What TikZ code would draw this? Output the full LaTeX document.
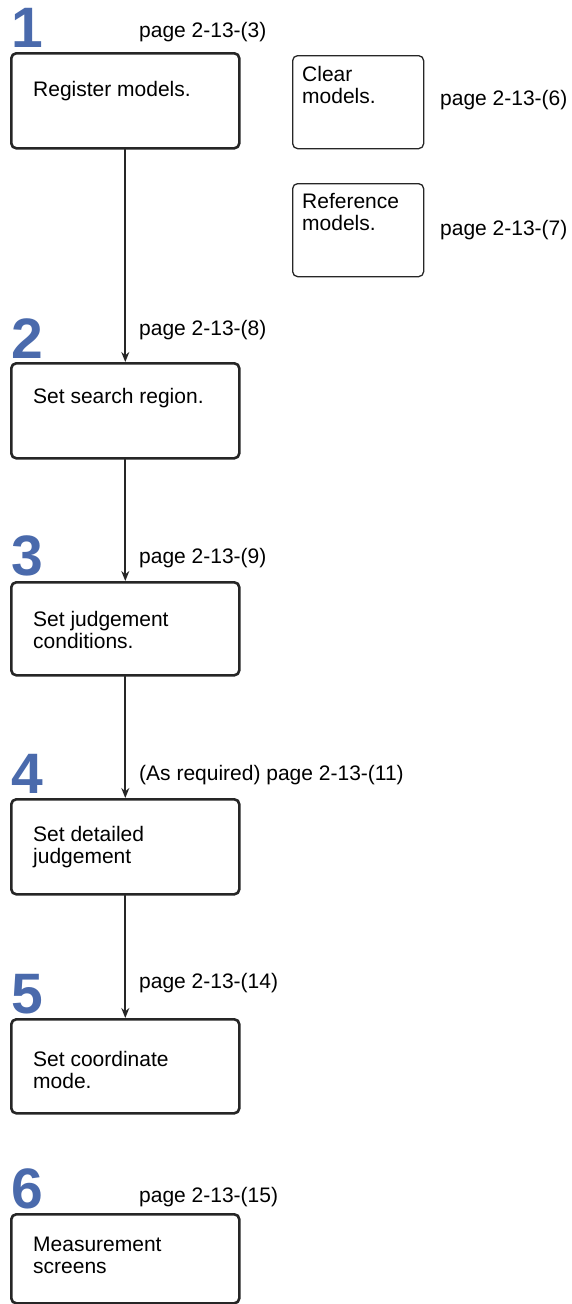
\documentclass[tikz,border=0pt]{standalone}
\usepackage{fontspec}
\setmainfont{Liberation Sans}
\usetikzlibrary{arrows.meta}
\definecolor{stepblue}{RGB}{74,106,172}
\begin{document}
\begin{tikzpicture}[x=1pt,y=-1pt,line join=round,line cap=round,>={Stealth[length=10pt,width=8pt]},
	stepbox/.style={draw=black!85,line width=2.6pt,rounded corners=5pt,minimum width=228pt,anchor=north west,inner sep=0pt},
	sidebox/.style={draw=black!85,line width=1.3pt,rounded corners=5pt,minimum width=131pt,minimum height=93pt,anchor=north west,inner sep=0pt},
	boxtext/.style={anchor=base west,inner sep=0pt,align=left,font=\fontsize{21}{21.5}\selectfont},
	pagetext/.style={anchor=base west,inner sep=0pt,font=\fontsize{21}{21.5}\selectfont},
	stepnum/.style={anchor=base west,inner sep=0pt,text=stepblue,font=\fontsize{57}{57}\selectfont\bfseries}]
	\useasboundingbox (0,0) rectangle (571,1304);
	% Cac buoc chinh (\tb = duong co so cua dong cuoi)
	\foreach \n/\ty/\h/\tb/\nb/\lb/\lab/\txt in {
		1/52/95/96/47/37/{page 2-13-(3)}/{Register models.},
		2/362/95/403/358/335/{page 2-13-(8)}/{Set search region.},
		3/581/93/648/575/563/{page 2-13-(9)}/{Set judgement\\conditions.},
		4/798/95/863/793/780/{(As required) page 2-13-(11)}/{Set detailed\\judgement},
		5/1018/94/1088/1013/988/{page 2-13-(14)}/{Set coordinate\\mode.},
		6/1213/89/1273/1208/1202/{page 2-13-(15)}/{Measurement\\screens}}
	{
		\node[stepbox,minimum height=\h pt] (b\n) at (10,\ty) {};
		\node[boxtext] (t\n) at (33,\tb) {\txt};
		\node[stepnum] (n\n) at (11,\nb) {\n};
		\node[pagetext] (p\n) at (139,\lb) {\lab};
	}
	% Mui ten
	\foreach \i/\j in {1/2,2/3,3/4,4/5}
	\draw[->,line width=2.2pt,draw=black!85] (b\i.south) -- (b\j.north);
	% Hop phu
	\node[sidebox] (clr) at (292,55) {};
	\node[boxtext] (clrt) at (302,103) {Clear\\models.};
	\node[pagetext] (clrp) at (440,105) {page 2-13-(6)};
	\node[sidebox] (ref) at (292,183) {};
	\node[boxtext] (reft) at (302,230) {Reference\\models.};
	\node[pagetext] (refp) at (440,235) {page 2-13-(7)};
\end{tikzpicture}
\end{document}
